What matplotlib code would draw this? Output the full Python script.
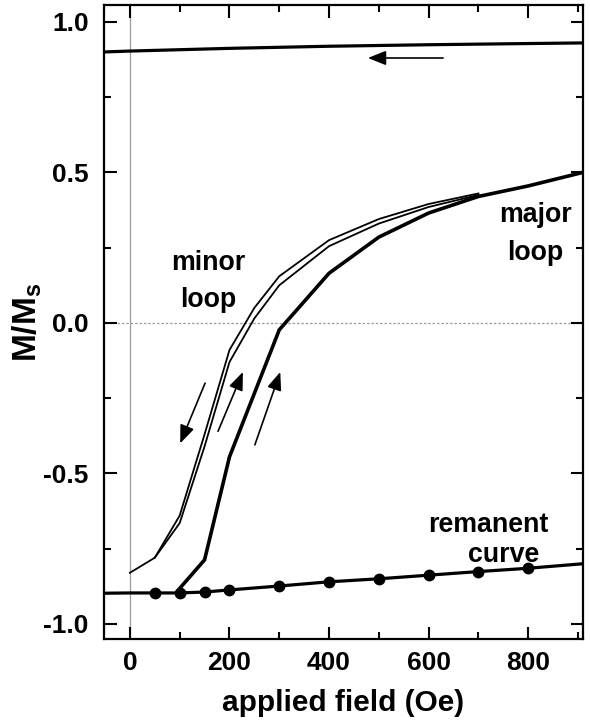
import matplotlib
matplotlib.use("Agg")
import matplotlib.pyplot as plt
from matplotlib.ticker import MultipleLocator

plt.rcParams['font.family'] = ['Liberation Sans', 'DejaVu Sans']
plt.rcParams['font.weight'] = 'bold'
plt.rcParams['mathtext.fontset'] = 'custom'
plt.rcParams['mathtext.rm'] = 'Liberation Sans:bold'
plt.rcParams['mathtext.bf'] = 'Liberation Sans:bold'

# ---- data ----
top_x = [-52, 0, 200, 400, 600, 800, 910]
top_y = [0.900, 0.903, 0.912, 0.919, 0.924, 0.928, 0.930]

rem_line_x = [-52, 0, 50, 100, 150, 200, 300, 400, 500, 600, 700, 800, 910]
rem_line_y = [-0.898, -0.897, -0.897, -0.897, -0.894, -0.887, -0.874, -0.860,
              -0.850, -0.838, -0.826, -0.815, -0.800]
rem_pts_x = [50, 100, 150, 200, 300, 400, 500, 600, 700, 800]
rem_pts_y = [-0.897, -0.897, -0.894, -0.887, -0.874, -0.860, -0.850, -0.838, -0.826, -0.815]

major_x = [100, 150, 200, 300, 400, 500, 600, 700, 800, 910]
major_y = [-0.882, -0.787, -0.445, -0.023, 0.165, 0.285, 0.365, 0.420, 0.455, 0.500]

minor_dn_x = [0, 50, 100, 150, 200, 250, 300, 400, 500, 600, 700]
minor_dn_y = [-0.83, -0.78, -0.64, -0.37, -0.09, 0.05, 0.155, 0.275, 0.345, 0.395, 0.430]
minor_up_x = [50, 100, 150, 200, 250, 300, 400, 500, 600, 700]
minor_up_y = [-0.78, -0.665, -0.41, -0.13, 0.015, 0.125, 0.255, 0.330, 0.385, 0.425]

# arrows: (tail_x, tail_y, head_x, head_y)
arrows = [
    (629, 0.880, 478, 0.880),
    (151, -0.200, 101, -0.400),
    (177, -0.360, 227, -0.163),
    (251, -0.405, 302, -0.163),
]

labels = [
    ("minor", 158, 0.200),
    ("loop", 157, 0.077),
    ("major", 814, 0.359),
    ("loop", 814, 0.233),
    ("remanent", 720, -0.672),
    ("curve", 750, -0.772),
]

xticks = [0, 200, 400, 600, 800]
yticks = [-1.0, -0.5, 0.0, 0.5, 1.0]

# ---- figure ----
fig = plt.figure(figsize=(5.9, 7.25), dpi=100)
ax = fig.add_axes([104/590, 1-639/725, (583-104)/590, (639-5)/725])

ax.axvline(0, color='#9a9a9a', lw=0.9, zorder=1)
ax.axhline(0, color='#9a9a9a', lw=0.9, ls=(0, (2, 1.5)), zorder=1)

ax.plot(top_x, top_y, color='k', lw=2.3, solid_capstyle='butt')
ax.plot(rem_line_x, rem_line_y, color='k', lw=2.3)
ax.plot(rem_pts_x, rem_pts_y, 'o', color='k', ms=7.5)
ax.plot(major_x, major_y, color='k', lw=2.6, solid_joinstyle='miter')
ax.plot(minor_dn_x, minor_dn_y, color='k', lw=1.3)
ax.plot(minor_up_x, minor_up_y, color='k', lw=1.3)

for tx, ty, hx, hy in arrows:
    ax.annotate('', xy=(hx, hy), xytext=(tx, ty),
                arrowprops=dict(arrowstyle='-|>,head_length=0.55,head_width=0.22',
                                mutation_scale=20, lw=1.2, color='k',
                                shrinkA=0, shrinkB=0))

for s, x, y in labels:
    ax.text(x, y, s, ha='center', va='center', fontsize=19.3, fontweight='bold')

ax.set_xlim(-52, 910)
ax.set_ylim(-1.05, 1.056)
ax.set_xticks(xticks)
ax.set_yticks(yticks)
ax.set_yticklabels([f"{v:.1f}" for v in yticks])
ax.xaxis.set_minor_locator(MultipleLocator(100))
ax.yaxis.set_minor_locator(MultipleLocator(0.25))
ax.tick_params(which='both', direction='in', top=True, right=True, width=1.5)
ax.tick_params(which='major', length=9, labelsize=19)
ax.tick_params(which='minor', length=5)
ax.tick_params(axis='y', pad=11)
ax.tick_params(axis='x', pad=9)
for lab in ax.get_xticklabels() + ax.get_yticklabels():
    lab.set_fontweight('bold')
for sp in ax.spines.values():
    sp.set_linewidth(1.6)

ax.set_xlabel('applied field (Oe)', fontsize=21.5, fontweight='bold', labelpad=10)
ax.set_ylabel(r'M/M$_{\mathbf{s}}$', fontsize=24, fontweight='bold')
ax.yaxis.set_label_coords(-0.126, 0.5)

fig.savefig('out.png', dpi=100)
